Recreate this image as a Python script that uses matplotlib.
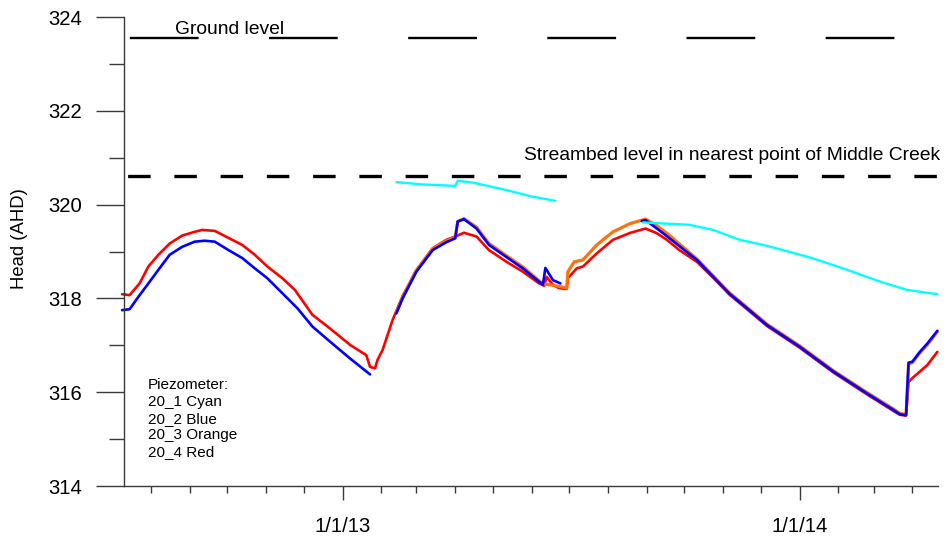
import pandas as pd
import matplotlib
matplotlib.use("Agg")
import matplotlib.pyplot as plt
import matplotlib.dates as mdates
from matplotlib.ticker import MultipleLocator, FuncFormatter

plt.rcParams['font.family'] = ['Liberation Sans', 'DejaVu Sans']
plt.rcParams['lines.scale_dashes'] = False

# reference levels (m AHD)
ground_level = 323.56
streambed_level = 320.6

# 20_4 (red)
red_dates = ['2012-07-09', '2012-07-15', '2012-07-23', '2012-07-30', '2012-08-07',
             '2012-08-16', '2012-08-26', '2012-09-05', '2012-09-11', '2012-09-21',
             '2012-10-02', '2012-10-13', '2012-10-23', '2012-11-02', '2012-11-14',
             '2012-11-24', '2012-12-08', '2012-12-22', '2013-01-07', '2013-01-20',
             '2013-01-23', '2013-01-27', '2013-01-29', '2013-02-02', '2013-02-10',
             '2013-02-18', '2013-03-01', '2013-03-14', '2013-03-25', '2013-04-02',
             '2013-04-08', '2013-04-18', '2013-04-28', '2013-05-12', '2013-05-25',
             '2013-06-07', '2013-06-11', '2013-06-13', '2013-06-18', '2013-06-23',
             '2013-06-29', '2013-06-30', '2013-07-07', '2013-07-12', '2013-07-23',
             '2013-08-05', '2013-08-19', '2013-08-31', '2013-09-09', '2013-09-17',
             '2013-09-27', '2013-10-11', '2013-10-24', '2013-11-06', '2013-11-20',
             '2013-12-06', '2014-01-01', '2014-01-28', '2014-02-24', '2014-03-17',
             '2014-03-22', '2014-03-27', '2014-03-29', '2014-04-01', '2014-04-13',
             '2014-04-21']
red_head = [318.09, 318.07, 318.32, 318.68, 318.93,
            319.17, 319.34, 319.42, 319.46, 319.44,
            319.29, 319.14, 318.93, 318.68, 318.43,
            318.18, 317.65, 317.36, 317.01, 316.79,
            316.54, 316.51, 316.69, 316.90, 317.54,
            318.05, 318.60, 319.07, 319.25, 319.33,
            319.40, 319.32, 319.03, 318.78, 318.57,
            318.32, 318.27, 318.46, 318.29, 318.22,
            318.20, 318.43, 318.64, 318.68, 318.96,
            319.25, 319.40, 319.49, 319.39, 319.25,
            319.03, 318.78, 318.44, 318.08, 317.77,
            317.41, 316.95, 316.42, 315.95, 315.60,
            315.52, 315.50, 316.22, 316.30, 316.58,
            316.86]

# 20_3 (orange)
orange_dates = ['2013-02-13', '2013-02-18', '2013-03-01', '2013-03-14', '2013-03-25',
                '2013-04-01', '2013-04-03', '2013-04-08', '2013-04-18', '2013-04-28',
                '2013-05-12', '2013-05-25', '2013-06-10', '2013-06-13', '2013-06-18',
                '2013-06-24', '2013-06-29', '2013-06-30', '2013-07-05', '2013-07-12',
                '2013-07-23', '2013-08-05', '2013-08-19', '2013-08-31', '2013-09-09',
                '2013-09-17', '2013-10-11', '2013-10-24', '2013-11-06', '2013-11-20',
                '2013-12-06', '2014-01-01', '2014-01-28', '2014-02-24', '2014-03-17',
                '2014-03-22', '2014-03-27', '2014-03-29', '2014-04-01', '2014-04-07',
                '2014-04-13', '2014-04-21']
orange_head = [317.70, 318.02, 318.60, 319.06, 319.23,
               319.30, 319.64, 319.70, 319.52, 319.17,
               318.91, 318.67, 318.31, 318.30, 318.28,
               318.25, 318.22, 318.57, 318.78, 318.82,
               319.14, 319.42, 319.60, 319.69, 319.55,
               319.39, 318.84, 318.48, 318.12, 317.81,
               317.45, 316.99, 316.46, 315.99, 315.64,
               315.55, 315.52, 316.60, 316.63, 316.84,
               317.01, 317.29]

# 20_2 (blue), three logging periods
blue_dates_a = ['2012-07-09', '2012-07-15', '2012-07-23', '2012-07-30', '2012-08-07',
                '2012-08-16', '2012-08-26', '2012-09-05', '2012-09-13', '2012-09-21',
                '2012-10-02', '2012-10-13', '2012-10-23', '2012-11-02', '2012-11-14',
                '2012-11-26', '2012-12-08', '2012-12-22', '2013-01-07', '2013-01-23']
blue_head_a = [317.75, 317.77, 318.07, 318.32, 318.61,
               318.93, 319.10, 319.21, 319.23, 319.21,
               319.03, 318.86, 318.64, 318.43, 318.11,
               317.79, 317.40, 317.08, 316.72, 316.38]
blue_dates_b = ['2013-02-13', '2013-02-18', '2013-03-01', '2013-03-14', '2013-03-25',
                '2013-04-01', '2013-04-03', '2013-04-08', '2013-04-18', '2013-04-28',
                '2013-05-12', '2013-05-25', '2013-06-10', '2013-06-12', '2013-06-18',
                '2013-06-24']
blue_head_b = [317.68, 318.00, 318.57, 319.03, 319.20,
               319.28, 319.64, 319.69, 319.49, 319.14,
               318.88, 318.64, 318.29, 318.65, 318.39,
               318.32]
blue_dates_c = ['2013-08-28', '2013-08-31', '2013-09-14', '2013-10-11', '2013-10-24',
                '2013-11-06', '2013-11-20', '2013-12-06', '2014-01-01', '2014-01-28',
                '2014-02-24', '2014-03-17', '2014-03-22', '2014-03-27', '2014-03-29',
                '2014-04-01', '2014-04-07', '2014-04-13', '2014-04-21']
blue_head_c = [319.65, 319.67, 319.39, 318.82, 318.46,
               318.10, 317.79, 317.43, 316.97, 316.44,
               315.97, 315.62, 315.53, 315.51, 316.63,
               316.65, 316.86, 317.04, 317.31]

# 20_1 (cyan), two logging periods
cyan_dates_a = ['2013-02-13', '2013-03-06', '2013-04-01', '2013-04-03', '2013-04-15',
                '2013-05-12', '2013-05-31', '2013-06-20']
cyan_head_a = [320.48, 320.43, 320.40, 320.51, 320.47,
               320.31, 320.18, 320.08]
cyan_dates_b = ['2013-08-29', '2013-10-05', '2013-10-24', '2013-11-14', '2013-12-03',
                '2013-12-16', '2014-01-11', '2014-02-08', '2014-03-06', '2014-03-28',
                '2014-04-21']
cyan_head_b = [319.62, 319.57, 319.46, 319.25, 319.14,
               319.05, 318.86, 318.61, 318.36, 318.18,
               318.09]

legend_lines = ['Piezometer:', '20_1 Cyan', '20_2 Blue', '20_3 Orange', '20_4 Red']

fig = plt.figure(figsize=(9.47, 5.44), dpi=100)
ax = fig.add_axes([0.1309, 0.1066, 0.8596, 0.8621])

axis_grey = '#3a3a3a'


def plot_series(dates, heads, color, lw=1.9):
    ax.plot(pd.to_datetime(dates), heads, color=color, lw=lw,
            solid_joinstyle='round', solid_capstyle='round', clip_on=False)


plot_series(red_dates, red_head, '#ff0000')
plot_series(orange_dates, orange_head, '#ff7010', lw=2.3)
for d, h in [(blue_dates_a, blue_head_a), (blue_dates_b, blue_head_b),
             (blue_dates_c, blue_head_c)]:
    plot_series(d, h, '#0000ff')
for d, h in [(cyan_dates_a, cyan_head_a), (cyan_dates_b, cyan_head_b)]:
    plot_series(d, h, '#00ffff', lw=1.7)

# ground and streambed reference lines
ax.axhline(ground_level, color='black', lw=1.7,
           linestyle=(96.0, (49.5, 50.7)))
ax.axhline(streambed_level, color='black', lw=2.4,
           linestyle=(30.7, (16.2, 17.1)))

ax.text(0.063, 0.963, 'Ground level', transform=ax.transAxes,
        fontsize=13.9, va='baseline', ha='left')
ax.text(1.003, 0.695, 'Streambed level in nearest point of Middle Creek',
        transform=ax.transAxes, fontsize=13.9, va='baseline', ha='right')

# piezometer key, one line at a time
for i, line in enumerate(legend_lines):
    ax.text(0.0295, 0.2068 - i * 0.0358, line, transform=ax.transAxes,
            fontsize=11, va='baseline', ha='left')

ax.set_xlim(pd.Timestamp('2012-07-10 12:00'), pd.Timestamp('2014-04-21 12:00'))
ax.set_ylim(314, 324)

ax.xaxis.set_major_locator(mdates.YearLocator())
ax.xaxis.set_minor_locator(mdates.MonthLocator())
ax.xaxis.set_major_formatter(FuncFormatter(
    lambda v, pos: '{0.month}/{0.day}/{1:02d}'.format(mdates.num2date(v),
                                                      mdates.num2date(v).year % 100)))
ax.yaxis.set_major_locator(MultipleLocator(2))
ax.yaxis.set_minor_locator(MultipleLocator(1))

ax.tick_params(axis='x', which='major', direction='out', length=10, width=1,
               color=axis_grey, labelsize=14.6, pad=12)
ax.tick_params(axis='x', which='minor', direction='out', length=4.8, width=1,
               color=axis_grey)
ax.tick_params(axis='y', which='major', direction='out', length=20, width=1,
               color=axis_grey, labelsize=14.6, pad=10)
ax.tick_params(axis='y', which='minor', direction='out', length=10.8, width=1,
               color=axis_grey)

for side in ['top', 'right']:
    ax.spines[side].set_visible(False)
for side in ['left', 'bottom']:
    ax.spines[side].set_color(axis_grey)
    ax.spines[side].set_linewidth(1)

ax.set_ylabel('Head (AHD)', fontsize=13.3)
ax.yaxis.set_label_coords(-0.118, 0.527)

fig.savefig('out.png', dpi=100)
